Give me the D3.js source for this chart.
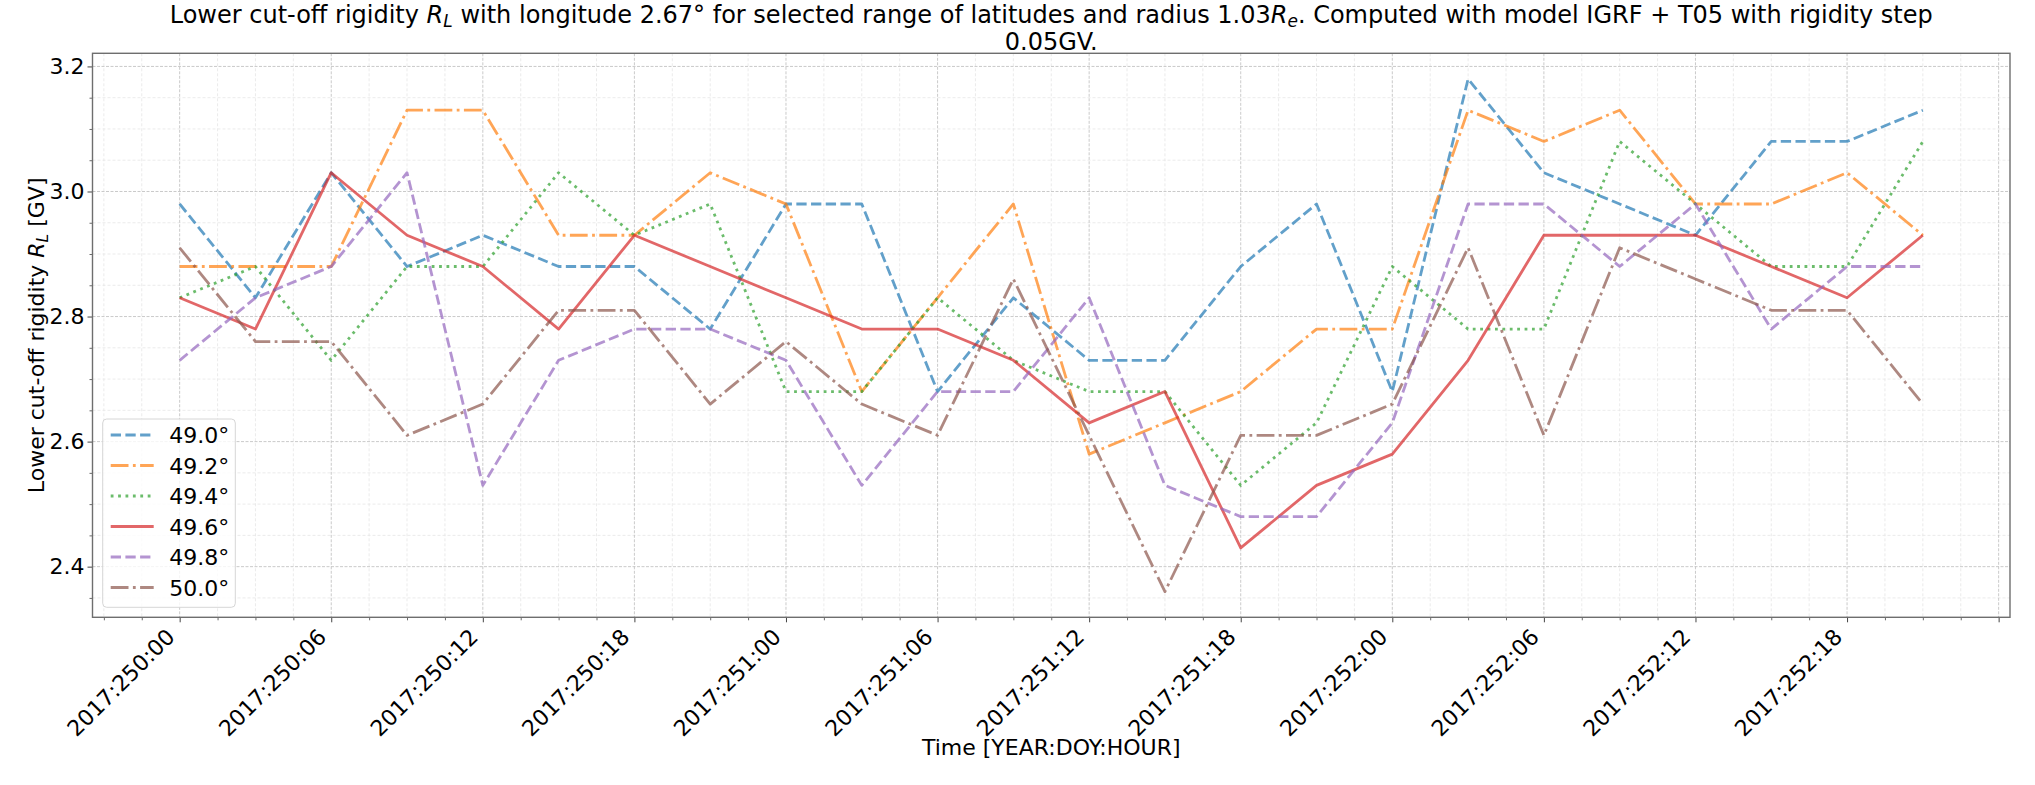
<!DOCTYPE html>
<html>
<head>
<meta charset="utf-8">
<script src="https://cdn.jsdelivr.net/npm/d3@7"></script>
<style>
  html, body { margin: 0; padding: 0; background: #fff; }
  svg { display: block; font-family: "DejaVu Sans", sans-serif; }
  svg text { font-family: "DejaVu Sans", sans-serif; }
</style>
</head>
<body>
<svg id="chart" width="2035" height="785"></svg>
<script>
// ---------------- data ----------------
const hours = [0,3,6,9,12,15,18,21,24,27,30,33,36,39,42,45,48,51,54,57,60,63,66,69];
const latLabels = ["49.0°","49.2°","49.4°","49.6°","49.8°","50.0°"];
const lat49_0 = [2.98,2.83,3.03,2.88,2.93,2.88,2.88,2.78,2.98,2.98,2.68,2.83,2.73,2.73,2.88,2.98,2.68,3.18,3.03,2.98,2.93,3.08,3.08,3.13];
const lat49_2 = [2.88,2.88,2.88,3.13,3.13,2.93,2.93,3.03,2.98,2.68,2.83,2.98,2.58,2.63,2.68,2.78,2.78,3.13,3.08,3.13,2.98,2.98,3.03,2.93];
const lat49_4 = [2.83,2.88,2.73,2.88,2.88,3.03,2.93,2.98,2.68,2.68,2.83,2.73,2.68,2.68,2.53,2.63,2.88,2.78,2.78,3.08,2.98,2.88,2.88,3.08];
const lat49_6 = [2.83,2.78,3.03,2.93,2.88,2.78,2.93,2.88,2.83,2.78,2.78,2.73,2.63,2.68,2.43,2.53,2.58,2.73,2.93,2.93,2.93,2.88,2.83,2.93];
const lat49_8 = [2.73,2.83,2.88,3.03,2.53,2.73,2.78,2.78,2.73,2.53,2.68,2.68,2.83,2.53,2.48,2.48,2.63,2.98,2.98,2.88,2.98,2.78,2.88,2.88];
const lat50_0 = [2.91,2.76,2.76,2.61,2.66,2.81,2.81,2.66,2.76,2.66,2.61,2.86,2.61,2.36,2.61,2.61,2.66,2.91,2.61,2.91,2.86,2.81,2.81,2.66];
const xTickHours = [0,6,12,18,24,30,36,42,48,54,60,66,72];
const xTickLabels = ["2017:250:00","2017:250:06","2017:250:12","2017:250:18","2017:251:00","2017:251:06",
                     "2017:251:12","2017:251:18","2017:252:00","2017:252:06","2017:252:12","2017:252:18"];
const yTickValues = [2.4,2.6,2.8,3.0,3.2];

// ---------------- setup ----------------
const seriesValues = [lat49_0, lat49_2, lat49_4, lat49_6, lat49_8, lat50_0];
const colors = ["#1f77b4","#ff7f0e","#2ca02c","#d62728","#9467bd","#8c564b"];
const dashes = ["10.3,4.4","17.8,4.4,2.8,4.4","2.8,4.6",null,"10.3,4.4","17.8,4.4,2.8,4.4"];

const svg = d3.select("#chart");
const L = 92.5, R = 2010, T = 53.3, B = 617.3;
const FS = 22;
const TFS = 24;
const FONT = "DejaVu Sans";

const x = d3.scaleLinear().domain([-3.45, 72.45]).range([L, R]);
const y = d3.scaleLinear().domain([2.319, 3.221]).range([B, T]);

// minor grid
const xMinor = d3.range(-3, 73, 1.5).filter(h => xTickHours.indexOf(h) < 0);
const yMinor = d3.range(2.35, 3.22, 0.05).filter(v => !yTickValues.some(t => Math.abs(t - v) < 1e-6));
const grid = svg.append("g");
grid.selectAll(".xmin").data(xMinor).join("line")
  .attr("x1", d => x(d)).attr("x2", d => x(d)).attr("y1", T).attr("y2", B)
  .attr("stroke", "#e6e6e6").attr("stroke-width", 0.8).attr("stroke-dasharray", "3,2");
grid.selectAll(".ymin").data(yMinor).join("line")
  .attr("x1", L).attr("x2", R).attr("y1", d => y(d)).attr("y2", d => y(d))
  .attr("stroke", "#e6e6e6").attr("stroke-width", 0.8).attr("stroke-dasharray", "3,2");
// major grid
grid.selectAll(".xmaj").data(xTickHours).join("line")
  .attr("x1", d => x(d)).attr("x2", d => x(d)).attr("y1", T).attr("y2", B)
  .attr("stroke", "#c4c4c4").attr("stroke-width", 0.9).attr("stroke-dasharray", "3,1.5");
grid.selectAll(".ymaj").data(yTickValues).join("line")
  .attr("x1", L).attr("x2", R).attr("y1", d => y(d)).attr("y2", d => y(d))
  .attr("stroke", "#c4c4c4").attr("stroke-width", 0.9).attr("stroke-dasharray", "3,1.5");

// lines
const lineGen = d3.line().x((d, i) => x(hours[i])).y(d => y(d));
const linesG = svg.append("g");
seriesValues.forEach((vals, k) => {
  linesG.append("path").datum(vals)
    .attr("d", lineGen)
    .attr("fill", "none")
    .attr("stroke", colors[k])
    .attr("stroke-opacity", 0.7)
    .attr("stroke-width", 2.8)
    .attr("stroke-linejoin", "round")
    .attr("stroke-dasharray", dashes[k]);
});

// axes
const xAxis = d3.axisBottom(x).tickValues(xTickHours)
  .tickFormat((d, i) => xTickLabels[i] || "").tickSize(5).tickPadding(0);
const gx = svg.append("g").attr("transform", `translate(0,${B})`).call(xAxis)
  .attr("font-family", FONT).attr("font-size", FS);
gx.select(".domain").remove();
gx.selectAll(".tick line").attr("stroke", "#444").attr("stroke-width", 1);
gx.selectAll(".tick text")
  .attr("font-size", FS).attr("font-family", FONT).attr("fill", "#000")
  .attr("text-anchor", "end")
  .attr("dy", null).attr("y", null)
  .attr("transform", "translate(-4,21) rotate(-45)");

const xMinorAxis = d3.axisBottom(x).tickValues(xMinor).tickFormat("").tickSize(3);
const gxm = svg.append("g").attr("transform", `translate(0,${B})`).call(xMinorAxis);
gxm.select(".domain").remove();
gxm.selectAll(".tick line").attr("stroke", "#444").attr("stroke-width", 0.8);

const yAxis = d3.axisLeft(y).tickValues(yTickValues).tickFormat(d3.format(".1f")).tickSize(5).tickPadding(3);
const gy = svg.append("g").attr("transform", `translate(${L},0)`).call(yAxis)
  .attr("font-family", FONT).attr("font-size", FS);
gy.select(".domain").remove();
gy.selectAll(".tick line").attr("stroke", "#444").attr("stroke-width", 1);
gy.selectAll(".tick text").attr("font-size", FS).attr("font-family", FONT).attr("fill", "#000");

const yMinorAxis = d3.axisLeft(y).tickValues(yMinor).tickFormat("").tickSize(3);
const gym = svg.append("g").attr("transform", `translate(${L},0)`).call(yMinorAxis);
gym.select(".domain").remove();
gym.selectAll(".tick line").attr("stroke", "#444").attr("stroke-width", 0.8);

// frame
svg.append("rect").attr("x", L).attr("y", T).attr("width", R - L).attr("height", B - T)
  .attr("fill", "none").attr("stroke", "#6e6e6e").attr("stroke-width", 1.4);

// title
const title = svg.append("text").attr("x", (L + R) / 2).attr("y", 22.5)
  .attr("text-anchor", "middle").attr("font-size", TFS).attr("fill", "#000");
title.append("tspan").text("Lower cut-off rigidity ");
title.append("tspan").attr("font-style", "italic").text("R");
title.append("tspan").attr("font-style", "italic").attr("font-size", 17).attr("dy", 4).text("L");
title.append("tspan").attr("dy", -4).text(" with longitude 2.67° for selected range of latitudes and radius 1.03");
title.append("tspan").attr("font-style", "italic").text("R");
title.append("tspan").attr("font-style", "italic").attr("font-size", 17).attr("dy", 4).text("e");
title.append("tspan").attr("dy", -4).text(". Computed with model IGRF + T05 with rigidity step");
svg.append("text").attr("x", (L + R) / 2).attr("y", 50)
  .attr("text-anchor", "middle").attr("font-size", TFS).attr("fill", "#000").text("0.05GV.");

// axis labels
svg.append("text").attr("x", (L + R) / 2).attr("y", 755)
  .attr("text-anchor", "middle").attr("font-size", FS).attr("fill", "#000")
  .text("Time [YEAR:DOY:HOUR]");
const yl = svg.append("text").attr("transform", `translate(44,${(T + B) / 2}) rotate(-90)`)
  .attr("text-anchor", "middle").attr("font-size", FS).attr("fill", "#000");
yl.append("tspan").text("Lower cut-off rigidity ");
yl.append("tspan").attr("font-style", "italic").text("R");
yl.append("tspan").attr("font-style", "italic").attr("font-size", 15.5).attr("dy", 4).text("L");
yl.append("tspan").attr("dy", -4).text(" [GV]");

// legend
const lg = svg.append("g");
lg.append("rect").attr("x", 102.7).attr("y", 419).attr("width", 132.6).attr("height", 188.3)
  .attr("rx", 4).attr("fill", "#fff").attr("fill-opacity", 0.8)
  .attr("stroke", "#d6d6d6").attr("stroke-width", 1);
latLabels.forEach((lab, k) => {
  const cy = 435 + k * 30.5;
  lg.append("line").attr("x1", 110.7).attr("x2", 153.7).attr("y1", cy).attr("y2", cy)
    .attr("stroke", colors[k]).attr("stroke-opacity", 0.7).attr("stroke-width", 2.8)
    .attr("stroke-dasharray", dashes[k]);
  lg.append("text").attr("x", 169.3).attr("y", cy + 8).attr("font-size", FS).attr("fill", "#000").text(lab);
});
</script>
</body>
</html>
